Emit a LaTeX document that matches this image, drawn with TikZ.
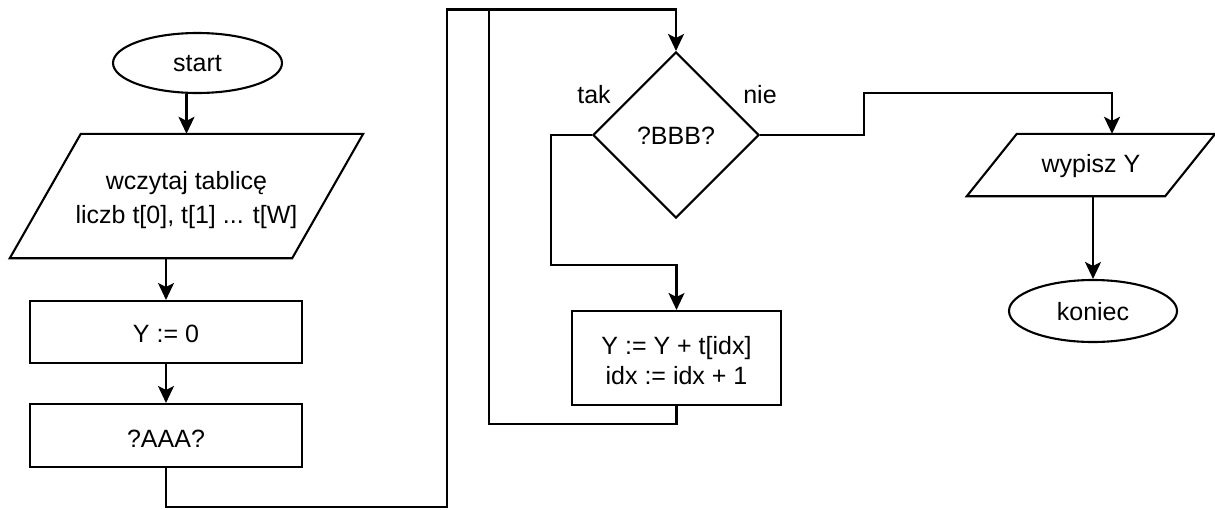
\documentclass[tikz,border=0pt]{standalone}
\usepackage{fontspec}
\setmainfont{Liberation Sans}
\usetikzlibrary{shapes.geometric,arrows.meta}

\tikzset{
  base/.style={draw=black, line width=2.1pt, inner sep=0pt},
  terminal/.style={base, ellipse},
  procbox/.style={base, rectangle},
  iobox/.style={rectangle, inner sep=0pt},
  decision/.style={base, diamond},
  txt/.style={inner sep=0pt, align=center, font=\fontsize{25}{31}\selectfont},
  link/.style={line width=2.1pt},
  arr/.style={link, -{Stealth[length=17pt, width=16pt, inset=4pt]}},
  slanted/.style={line width=2.1pt, line join=miter},
}

\begin{document}
\begin{tikzpicture}[x=1pt, y=-1pt]
  \useasboundingbox (0,0) rectangle (1215,509);

  % left column
  \node[terminal, minimum width=169pt, minimum height=60pt] (start) at (197.5,63) {};
  \node[txt, yshift=-1pt] (startT) at (start) {start};

  \node[iobox, minimum width=353pt, minimum height=124pt] (read) at (186.5,196) {};
  \draw[slanted] ([xshift=71pt]read.north west) -- (read.north east)
        -- ([xshift=-71pt]read.south east) -- (read.south west) -- cycle;
  \node[txt, font=\fontsize{25}{34}\selectfont, yshift=-4pt] (readT) at (read)
        {wczytaj tablicę\\liczb t[0], t[1] ... t[W]};

  \node[procbox, minimum width=272pt, minimum height=62pt] (init) at (166,332) {};
  \node[txt, yshift=-2pt] (initT) at (init) {Y := 0};
  \node[procbox, minimum width=272pt, minimum height=63pt] (aaa) at (166,435.5) {};
  \node[txt, yshift=-3pt] (aaaT) at (aaa) {?AAA?};

  % loop
  \node[decision, minimum width=166pt, minimum height=166pt] (bbb) at (676,135) {};
  \node[txt, yshift=-1pt] (bbbT) at (bbb) {?BBB?};
  \node[txt] (tak) at (594,95) {tak};
  \node[txt] (nie) at (760,95) {nie};
  \node[procbox, minimum width=209pt, minimum height=94pt] (body) at (676.5,358) {};
  \node[txt, font=\fontsize{25}{30}\selectfont, yshift=-3pt] (bodyT) at (body)
        {Y := Y + t[idx]\\idx := idx + 1};

  % output
  \node[iobox, minimum width=248pt, minimum height=62pt] (out) at (1091,165) {};
  \draw[slanted] ([xshift=50pt]out.north west) -- (out.north east)
        -- ([xshift=-50pt]out.south east) -- (out.south west) -- cycle;
  \node[txt, yshift=-1pt] (outT) at (out) {wypisz Y};
  \node[terminal, minimum width=168pt, minimum height=62pt] (stop) at (1093,311) {};
  \node[txt, yshift=-1pt] (stopT) at (stop) {koniec};

  % routing points
  \coordinate (c1) at (447,507);
  \coordinate (c2) at (447,9.5);
  \coordinate (c3) at (551,265);
  \coordinate (c4) at (489,424);
  \coordinate (c5) at (864,93);
  \coordinate (c6) at (1112,93);

  % connectors
  \draw[arr] (start.south -| read.north) -- (read.north);
  \draw[arr] (read.south -| init.north) -- (init.north);
  \draw[arr] (init.south) -- (aaa.north);
  \draw[arr] (aaa.south) |- (c1) -- (c2) -| (bbb.north);
  \draw[arr] (bbb.west) -| (c3) -| (body.north);
  \draw[link] (body.south) |- (c4) -- (c4 |- c2);
  \draw[arr] (bbb.east) -| (c5) -- (c6) -- (c6 |- out.north);
  \draw[arr] (out.south -| stop.north) -- (stop.north);
\end{tikzpicture}
\end{document}
